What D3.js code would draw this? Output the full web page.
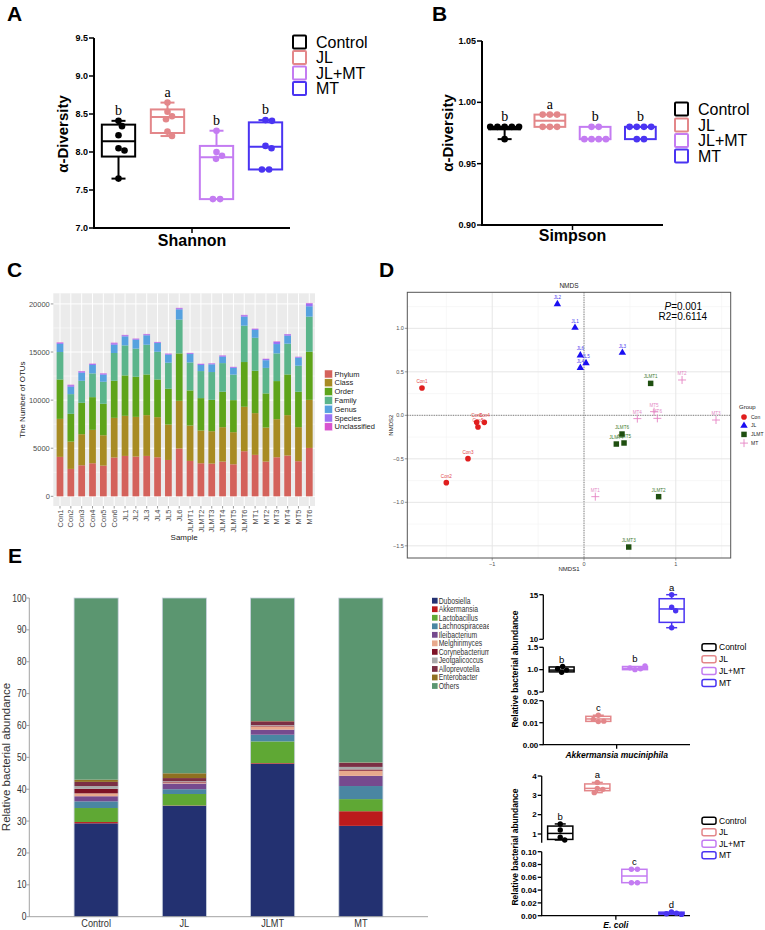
<!DOCTYPE html>
<html><head><meta charset="utf-8">
<script src="https://cdn.jsdelivr.net/npm/d3@7"></script>
<style>body{margin:0;background:#fff} svg{display:block}</style>
</head><body>
<svg id="chart" width="765" height="930"></svg>
<script>
// ================= DATA =================
const groups = ["Control","JL","JL+MT","MT"];
const groupColors = ["#000000","#e3878a","#c47cf2","#4a34f2"];

// Panel A – Shannon (points; box stats = [min,q1,median,q3,max])
const shannonTicks = [7.0,7.5,8.0,8.5,9.0,9.5];
const shannonPoints = [[8.41,8.34,8.22,8.05,8.02,7.65],[8.65,8.53,8.47,8.43,8.27,8.21],[8.28,8.00,7.95,7.91,7.38,7.38],[8.42,8.41,8.08,8.05,7.77,7.77]];
const shannonBox = [[7.65,7.94,8.14,8.36,8.41],[8.21,8.25,8.46,8.56,8.65],[7.38,7.38,7.93,8.08,8.28],[7.77,7.77,8.07,8.39,8.42]];
const shannonLetters = ["b","a","b","b"];

// Panel B – Simpson
const simpsonTicks = [0.90,0.95,1.00,1.05];
const simpsonPoints = [[0.980,0.980,0.980,0.980,0.980,0.970],[0.990,0.990,0.990,0.980,0.980,0.980],[0.980,0.980,0.970,0.970,0.970,0.970],[0.980,0.980,0.980,0.980,0.970,0.970]];
const simpsonBox = [[0.970,0.978,0.979,0.980,0.980],[0.980,0.980,0.985,0.990,0.990],[0.970,0.970,0.970,0.980,0.980],[0.970,0.970,0.980,0.980,0.980]];
const simpsonLetters = ["b","a","b","b"];

// Panel C – OTU numbers
const samples = ["Con1","Con2","Con3","Con4","Con5","Con6","JL1","JL2","JL3","JL4","JL5","JL6","JLMT1","JLMT2","JLMT3","JLMT4","JLMT5","JLMT6","MT1","MT2","MT3","MT4","MT5","MT6"];
const otuLevels = ["Phylum","Class","Order","Family","Genus","Species","Unclassified"];
const otuColors = ["#d4625b","#a88b23","#5ea41a","#5bb58b","#56a2df","#9b72f5","#d853cf"];
const otuPhylum  = [4100,2850,3230,3440,3190,4030,4200,4130,4200,4060,3780,4970,3680,3440,3400,3610,3330,4690,4310,3610,4060,4240,3650,5030];
const otuClass   = [3950,2840,3230,3470,3160,4130,4170,4130,4240,4170,3680,4960,3680,3400,3370,3580,3340,4620,4340,3540,3960,4200,3540,5000];
const otuOrder   = [4100,2885,3260,3400,3270,3850,4200,4170,4230,3920,3720,4930,3650,3370,3260,3680,3330,4650,4400,3550,3960,4230,3680,5000];
const otuFamily  = [2850,2050,2290,2470,2290,2890,3120,2920,3090,2880,2710,3510,2910,2810,2890,2980,2650,3780,3430,2650,2880,3200,2710,3650];
const otuGenus   = [850,765,840,870,730,860,940,930,980,910,830,1070,870,630,800,660,700,940,820,800,970,830,830,1080];
const otuSpecies = [100,160,130,100,110,150,110,90,100,80,90,110,90,100,80,110,80,140,100,120,220,140,70,290];
const otuUnclassified = [50,50,40,40,40,60,40,30,40,30,30,40,30,30,30,30,30,40,30,30,50,30,30,50];
const otuTicks = [0,5000,10000,15000,20000];

// Panel D – NMDS
const nmdsNames = ["Con1","Con2","Con3","Con4","Con5","Con6","JL1","JL2","JL3","JL4","JL5","JL6","JLMT1","JLMT2","JLMT3","JLMT4","JLMT5","JLMT6","MT1","MT2","MT3","MT4","MT5","MT6"];
const nmdsX = [-1.765,-1.50,-1.264,-1.086,-1.155,-1.169,-0.098,-0.29,0.418,-0.04,0.022,-0.04,0.726,0.813,0.487,0.352,0.436,0.414,0.123,1.068,1.438,0.581,0.763,0.799];
const nmdsY = [0.314,-0.774,-0.498,-0.081,-0.134,-0.081,1.007,1.279,0.72,0.547,0.601,0.69,0.367,-0.935,-1.514,-0.33,-0.318,-0.215,-0.935,0.406,-0.054,-0.038,0.042,-0.035];
const nmdsGroup = ["Con","Con","Con","Con","Con","Con","JL","JL","JL","JL","JL","JL","JLMT","JLMT","JLMT","JLMT","JLMT","JLMT","MT","MT","MT","MT","MT","MT"];
const nmdsGroups = ["Con","JL","JLMT","MT"];
const nmdsColors = ["#e01e1e","#1a0ff2","#1f4f10","#e585c4"];
const nmdsLabelColors = ["#e2474a","#4a3cf0","#3f7d33","#e38ac6"];
const nmdsXTicks = [-1,0,1];
const nmdsYTicks = [-1.5,-1.0,-0.5,0.0,0.5,1.0];

// Panel E – relative abundance of genera
const barGroups = ["Control","JL","JLMT","MT"];
const genera = ["Dubosiella","Akkermansia","Lactobacillus","Lachnospiraceae","Ileibacterium","Melghirimyces","Corynebacterium","Jeotgalicoccus","Alloprevotella","Enterobacter","Others"];
const generaColors = ["#233171","#bb1a1c","#5fa834","#4a86a2","#764a8e","#e8a98c","#7e1226","#a9a9a9","#7b2f44","#8f7021","#5b9670"];
const dubosiella = [29.3,34.8,48.0,28.5];
const akkermansia = [0.4,0.1,0.2,4.6];
const lactobacillus = [4.4,3.6,6.8,3.8];
const lachnospiraceae = [2.1,1.5,2.1,4.1];
const ileibacterium = [1.6,1.8,1.6,3.2];
const melghirimyces = [0.9,0.3,1.0,1.6];
const corynebacterium = [1.4,0.2,0.2,0.4];
const jeotgalicoccus = [0.9,0.2,0.2,0.8];
const alloprevotella = [1.3,1.0,1.2,1.3];
const enterobacter = [0.7,1.5,0.1,0.1];
const others = [57.0,55.0,38.6,51.6];
const abundTicks = [0,10,20,30,40,50,60,70,80,90,100];

// Panel E right – qPCR
const akkPoints = [[0.94,0.99,1.02,1.07],[0.0105,0.0107,0.0115,0.0134],[1.00,1.02,1.04,1.08],[15.0,13.6,13.2,11.3]];
const akkBox = [[0.94,0.95,0.99,1.06,1.07],[0.0105,0.0106,0.0117,0.0129,0.0134],[1.00,1.00,1.03,1.07,1.08],[11.3,11.9,13.4,14.55,15.0]];
const akkLetters = ["b","c","b","a"];
const akkSegTicks = [[0,0.01,0.02],[0.5,1.0,1.5],[10,15]];
const ecoliPoints = [[1.52,1.21,0.83,0.69],[3.67,3.36,3.31,3.14],[0.0725,0.0725,0.0516,0.0516],[0.006,0.004,0.003,0.002]];
const ecoliBox = [[0.69,0.72,1.03,1.41,1.52],[3.14,3.24,3.36,3.59,3.67],[0.0516,0.0516,0.062,0.0725,0.0725],[0.002,0.0025,0.0035,0.0055,0.006]];
const ecoliLetters = ["b","a","c","d"];
const ecoliSegTicks = [[0,0.02,0.04,0.06,0.08,0.10],[1,2,3,4]];

// ================= DRAW =================
const svg = d3.select("#chart");
const AR = "Arial, 'Liberation Sans', Helvetica, sans-serif";
const SER = "'Times New Roman','Liberation Serif', serif";

function txt(g, s, x, y, size, opts = {}) {
  const t = g.append("text").text(s)
    .attr("font-family", opts.family || AR).attr("font-size", size)
    .attr("fill", opts.fill || "#000");
  if (opts.narrow) {
    t.attr("x", 0).attr("y", 0).attr("transform", `translate(${x},${y}) scale(${opts.narrow},1)`);
  } else {
    t.attr("x", x).attr("y", y);
    if (opts.rotate) t.attr("transform", `rotate(${opts.rotate},${x},${y})`);
  }
  if (opts.weight) t.attr("font-weight", opts.weight);
  if (opts.anchor) t.attr("text-anchor", opts.anchor);
  if (opts.style) t.attr("font-style", opts.style);
  if (opts.dy) t.attr("dy", opts.dy);
  return t;
}

// panel letters
[["A",7,21],["B",432,21],["C",7,277],["D",379,277],["E",8,563]].forEach(d =>
  txt(svg, d[0], d[1], d[2], 21, {weight: "bold"}));

function placeDots(vals, y, r) {
  const placed = [], out = [];
  const idx = vals.map((v, i) => i);
  const rows = d3.groups(idx, i => Math.round(y(vals[i]) * 2) / 2);
  rows.forEach(([py, ids]) => {
    const n = ids.length;
    if (n > 1) {
      ids.forEach((i, k) => { const dx = (k - (n - 1) / 2) * (2 * r + 0.6); out[i] = dx; placed.push([dx, y(vals[i])]); });
    } else {
      const i = ids[0], yy = y(vals[i]);
      const hit = d => placed.find(p => Math.hypot(p[0] - d, p[1] - yy) < 2 * r - 0.3);
      let dx = 0; const h = hit(0);
      if (h) {
        const sg = h[0] > 0 ? -1 : 1;
        for (let s = 0.5; s < 40; s += 0.5) {
          if (!hit(sg * s)) { dx = sg * s; break; }
          if (!hit(-sg * s)) { dx = -sg * s; break; }
        }
      }
      out[i] = dx; placed.push([dx, yy]);
    }
  });
  return out;
}

function drawBox(g, cx, w, y, st, color, sw, capW, pts, r) {
  const line = (x1, y1, x2, y2) => g.append("line").attr("x1", x1).attr("y1", y1).attr("x2", x2).attr("y2", y2)
    .attr("stroke", color).attr("stroke-width", sw);
  if (Math.abs(y(st[0]) - y(st[1])) > 0.5) {
    line(cx, y(st[1]), cx, y(st[0])); line(cx - capW / 2, y(st[0]), cx + capW / 2, y(st[0]));
  }
  if (Math.abs(y(st[4]) - y(st[3])) > 0.5) {
    line(cx, y(st[3]), cx, y(st[4])); line(cx - capW / 2, y(st[4]), cx + capW / 2, y(st[4]));
  }
  g.append("rect").attr("x", cx - w / 2).attr("y", y(st[3])).attr("width", w)
    .attr("height", Math.max(0.5, y(st[1]) - y(st[3]))).attr("fill", "none")
    .attr("stroke", color).attr("stroke-width", sw);
  line(cx - w / 2, y(st[2]), cx + w / 2, y(st[2]));
  const offs = placeDots(pts, y, r);
  pts.forEach((v, i) => g.append("circle").attr("cx", cx + offs[i]).attr("cy", y(v)).attr("r", r).attr("fill", color));
}

// ---------- Panel A & B ----------
function diversityPanel(cfg) {
  const g = svg.append("g");
  const y = d3.scaleLinear().domain(cfg.domain).range(cfg.yr);
  const x = d3.scaleBand().domain(groups).range(cfg.xr);
  g.append("line").attr("x1", cfg.xr[0]).attr("x2", cfg.xr[0]).attr("y1", cfg.yr[0]).attr("y2", cfg.yr[1]).attr("stroke", "#000").attr("stroke-width", 2);
  g.append("line").attr("x1", cfg.xr[0] - 1).attr("x2", cfg.xr[1]).attr("y1", cfg.yr[0]).attr("y2", cfg.yr[0]).attr("stroke", "#000").attr("stroke-width", 2);
  cfg.ticks.forEach(t => {
    g.append("line").attr("x1", cfg.xr[0] - 5).attr("x2", cfg.xr[0]).attr("y1", y(t)).attr("y2", y(t)).attr("stroke", "#000").attr("stroke-width", 1.5);
    txt(g, d3.format(cfg.fmt)(t), cfg.xr[0] - 6, y(t), 9, {weight: "bold", anchor: "end", dy: "0.35em"});
  });
  const xm = (cfg.xr[0] + cfg.xr[1]) / 2;
  g.append("line").attr("x1", xm).attr("x2", xm).attr("y1", cfg.yr[0]).attr("y2", cfg.yr[0] + 5).attr("stroke", "#000").attr("stroke-width", 1.5);
  txt(g, cfg.xlabel, xm, cfg.xlabY, 16, {weight: "bold", anchor: "middle"});
  txt(g, "α-Diversity", cfg.ytX, cfg.ytY, 15, {weight: "bold", anchor: "middle", rotate: -90});
  groups.forEach((gr, i) => {
    const cx = x(gr) + x.bandwidth() / 2;
    drawBox(g, cx, x.bandwidth() * 0.68, y, cfg.box[i], groupColors[i], 2, 14, cfg.points[i], 3.3);
    txt(g, cfg.letters[i], cx, y(cfg.box[i][4]) - 6, 14, {family: SER, anchor: "middle"});
  });
  groups.forEach((gr, i) => {
    const yy = cfg.legY[i];
    g.append("rect").attr("x", cfg.legX).attr("y", yy - 6.5).attr("width", 13).attr("height", 13)
      .attr("fill", "none").attr("stroke", groupColors[i]).attr("stroke-width", 2).attr("rx", 1);
    txt(g, gr, cfg.legX + 23, yy, 16, {dy: "0.36em"});
  });
}
diversityPanel({domain: [7, 9.5], yr: [228, 38], xr: [94, 290], ticks: shannonTicks, fmt: ".1f",
  points: shannonPoints, box: shannonBox, letters: shannonLetters, xlabel: "Shannon", xlabY: 246,
  ytX: 68, ytY: 134, legX: 293, legY: [42, 57.5, 73, 88.5]});
diversityPanel({domain: [0.9, 1.05], yr: [225, 41], xr: [482, 663], ticks: simpsonTicks, fmt: ".2f",
  points: simpsonPoints, box: simpsonBox, letters: simpsonLetters, xlabel: "Simpson", xlabY: 241,
  ytX: 453, ytY: 133, legX: 675, legY: [109, 125, 140.5, 156]});

// ---------- Panel C ----------
(function () {
  const g = svg.append("g");
  const L = 53.3, R = 315, T = 293.3, B = 506;
  const y = d3.scaleLinear().domain([-1005, 21105]).range([B, T]);
  const x = d3.scalePoint().domain(samples).range([60, 309.3]);
  const bw = x.step() * 0.62;
  g.append("rect").attr("x", L).attr("y", T).attr("width", R - L).attr("height", B - T).attr("fill", "#ebebeb");
  [2500, 7500, 12500, 17500].forEach(v => g.append("line").attr("x1", L).attr("x2", R).attr("y1", y(v)).attr("y2", y(v)).attr("stroke", "#fff").attr("stroke-width", 0.5));
  otuTicks.forEach(v => g.append("line").attr("x1", L).attr("x2", R).attr("y1", y(v)).attr("y2", y(v)).attr("stroke", "#fff").attr("stroke-width", 1));
  samples.forEach(s => g.append("line").attr("x1", x(s)).attr("x2", x(s)).attr("y1", T).attr("y2", B).attr("stroke", "#fff").attr("stroke-width", 1));
  const arrs = [otuPhylum, otuClass, otuOrder, otuFamily, otuGenus, otuSpecies, otuUnclassified];
  const table = samples.map((s, i) => { const o = {sample: s}; otuLevels.forEach((l, k) => o[l] = arrs[k][i]); return o; });
  const series = d3.stack().keys(otuLevels)(table);
  series.forEach((ser, k) => {
    g.selectAll(null).data(ser).join("rect")
      .attr("x", d => x(d.data.sample) - bw / 2).attr("width", bw)
      .attr("y", d => y(d[1])).attr("height", d => y(d[0]) - y(d[1]))
      .attr("fill", otuColors[k]);
  });
  otuTicks.forEach(v => {
    g.append("line").attr("x1", L - 2.5).attr("x2", L).attr("y1", y(v)).attr("y2", y(v)).attr("stroke", "#555").attr("stroke-width", 0.6);
    txt(g, String(v), L - 3.5, y(v), 7.5, {anchor: "end", dy: "0.35em", fill: "#4d4d4d"});
  });
  samples.forEach(s => {
    g.append("line").attr("x1", x(s)).attr("x2", x(s)).attr("y1", B).attr("y2", B + 2.5).attr("stroke", "#555").attr("stroke-width", 0.6);
    txt(g, s, x(s), B + 3.5, 7.5, {anchor: "end", dy: "0.35em", fill: "#4d4d4d", rotate: -90});
  });
  txt(g, "Sample", (L + R) / 2, 540, 8, {anchor: "middle", fill: "#222"});
  txt(g, "The Number of OTUs", 25, (T + B) / 2, 8, {anchor: "middle", fill: "#222", rotate: -90});
  otuLevels.forEach((l, k) => {
    const yy = 374 + k * 8.8;
    g.append("rect").attr("x", 324.5).attr("y", yy - 4).attr("width", 8).attr("height", 8).attr("fill", otuColors[k]).attr("stroke", "#fff").attr("stroke-width", 0.5);
    txt(g, l, 334.5, yy, 7.5, {dy: "0.35em", fill: "#222"});
  });
})();

// ---------- Panel D ----------
(function () {
  const g = svg.append("g");
  const L = 407.3, R = 730.7, T = 292.3, B = 558;
  const x = d3.scaleLinear().domain([-1.925, 1.598]).range([L, R]);
  const y = d3.scaleLinear().domain([-1.64, 1.414]).range([B, T]);
  g.append("rect").attr("x", L).attr("y", T).attr("width", R - L).attr("height", B - T).attr("fill", "#fff");
  [-1.5, -0.5, 0.5, 1.5].forEach(v => g.append("line").attr("x1", x(v)).attr("x2", x(v)).attr("y1", T).attr("y2", B).attr("stroke", "#f3f3f3").attr("stroke-width", 0.6));
  [-1.25, -0.75, -0.25, 0.25, 0.75, 1.25].forEach(v => g.append("line").attr("x1", L).attr("x2", R).attr("y1", y(v)).attr("y2", y(v)).attr("stroke", "#f3f3f3").attr("stroke-width", 0.6));
  nmdsXTicks.forEach(v => g.append("line").attr("x1", x(v)).attr("x2", x(v)).attr("y1", T).attr("y2", B).attr("stroke", "#e6e6e6").attr("stroke-width", 1));
  nmdsYTicks.forEach(v => g.append("line").attr("x1", L).attr("x2", R).attr("y1", y(v)).attr("y2", y(v)).attr("stroke", "#e6e6e6").attr("stroke-width", 1));
  g.append("line").attr("x1", x(0)).attr("x2", x(0)).attr("y1", T).attr("y2", B).attr("stroke", "#666").attr("stroke-width", 0.8).attr("stroke-dasharray", "1.2,1.2");
  g.append("line").attr("x1", L).attr("x2", R).attr("y1", y(0)).attr("y2", y(0)).attr("stroke", "#666").attr("stroke-width", 0.8).attr("stroke-dasharray", "1.2,1.2");
  g.append("rect").attr("x", L).attr("y", T).attr("width", R - L).attr("height", B - T).attr("fill", "none").attr("stroke", "#555").attr("stroke-width", 1);
  nmdsXTicks.forEach(v => {
    g.append("line").attr("x1", x(v)).attr("x2", x(v)).attr("y1", B).attr("y2", B + 2.5).attr("stroke", "#555").attr("stroke-width", 0.6);
    txt(g, v === 0 ? "0" : d3.format("d")(v).replace("-", "−"), x(v), B + 7.5, 5.5, {anchor: "middle", fill: "#4d4d4d"});
  });
  nmdsYTicks.forEach(v => {
    g.append("line").attr("x1", L - 2.5).attr("x2", L).attr("y1", y(v)).attr("y2", y(v)).attr("stroke", "#555").attr("stroke-width", 0.6);
    txt(g, d3.format(".1f")(v).replace("-", "−"), L - 3.5, y(v), 5.5, {anchor: "end", dy: "0.35em", fill: "#4d4d4d"});
  });
  txt(g, "NMDS", (L + R) / 2, 288, 6.5, {anchor: "middle", fill: "#222"});
  txt(g, "NMDS1", (L + R) / 2, 571, 6, {anchor: "middle", fill: "#222"});
  txt(g, "NMDS2", 393, (T + B) / 2, 6, {anchor: "middle", fill: "#222", rotate: -90});
  const sym = (gi, px, py, sc) => {
    if (gi === 3) return g.append("path").attr("d", `M${px - 4 * sc},${py}H${px + 4 * sc}M${px},${py - 4 * sc}V${py + 4 * sc}`).attr("stroke", nmdsColors[3]).attr("stroke-width", 0.9).attr("fill", "none");
    const types = [d3.symbolCircle, d3.symbolTriangle, d3.symbolSquare];
    const sizes = [25, 24, 30];
    return g.append("path").attr("d", d3.symbol(types[gi], sizes[gi] * sc * sc)()).attr("transform", `translate(${px},${py})`).attr("fill", nmdsColors[gi]);
  };
  nmdsNames.forEach((n, i) => {
    const gi = nmdsGroups.indexOf(nmdsGroup[i]);
    sym(gi, x(nmdsX[i]), y(nmdsY[i]), 1);
    txt(g, n, x(nmdsX[i]), y(nmdsY[i]) - 5, 4.6, {anchor: "middle", fill: nmdsLabelColors[gi]});
  });
  const ptxt = g.append("text").attr("x", 702).attr("y", 310).attr("font-family", AR).attr("font-size", 10).attr("text-anchor", "end");
  ptxt.append("tspan").attr("font-style", "italic").text("P");
  ptxt.append("tspan").text("=0.001");
  txt(g, "R2=0.6114", 707, 320, 10, {anchor: "end"});
  txt(g, "Group", 739, 409, 6, {fill: "#222"});
  nmdsGroups.forEach((n, k) => {
    const yy = 417 + k * 8.7;
    sym(k, 744, yy, 1);
    txt(g, n, 751, yy, 5, {dy: "0.35em", fill: "#222"});
  });
})();

// ---------- Panel E (stacked bars) ----------
(function () {
  const g = svg.append("g");
  const y = d3.scaleLinear().domain([0, 100]).range([916.7, 598]);
  const x = d3.scaleBand().domain(barGroups).range([52, 405]).paddingInner(0.5).paddingOuter(0.25);
  const arrs = [dubosiella, akkermansia, lactobacillus, lachnospiraceae, ileibacterium, melghirimyces, corynebacterium, jeotgalicoccus, alloprevotella, enterobacter, others];
  const table = barGroups.map((b, i) => { const o = {grp: b}; genera.forEach((ge, k) => o[ge] = arrs[k][i]); return o; });
  const series = d3.stack().keys(genera)(table);
  series.forEach((ser, k) => {
    g.selectAll(null).data(ser).join("rect")
      .attr("x", d => x(d.data.grp)).attr("width", x.bandwidth())
      .attr("y", d => y(d[1])).attr("height", d => y(d[0]) - y(d[1]))
      .attr("fill", generaColors[k]);
  });
  barGroups.forEach(b => g.append("rect").attr("x", x(b)).attr("y", y(100)).attr("width", x.bandwidth()).attr("height", y(0) - y(100))
    .attr("fill", "none").attr("stroke", "#c9d1de").attr("stroke-width", 0.8));
  g.append("line").attr("x1", 29.3).attr("x2", 29.3).attr("y1", y(0)).attr("y2", y(100)).attr("stroke", "#8a8a8a").attr("stroke-width", 0.8);
  g.append("line").attr("x1", 29.3).attr("x2", 428).attr("y1", y(0)).attr("y2", y(0)).attr("stroke", "#8a8a8a").attr("stroke-width", 0.8);
  abundTicks.forEach(v => {
    g.append("line").attr("x1", 26.5).attr("x2", 29.3).attr("y1", y(v)).attr("y2", y(v)).attr("stroke", "#8a8a8a").attr("stroke-width", 0.8);
    txt(g, String(v), 26.5, y(v), 10, {narrow: 0.85, anchor: "end", dy: "0.35em", fill: "#333"});
  });
  barGroups.forEach(b => txt(g, b, x(b) + x.bandwidth() / 2, 927, 11.5, {narrow: 0.8, anchor: "middle", fill: "#333"}));
  txt(g, "Relative bacterial abundance", 10, 757, 11.5, {anchor: "middle", fill: "#333", rotate: -90});
  const clip = svg.append("clipPath").attr("id", "legclip");
  clip.append("rect").attr("x", 420).attr("y", 590).attr("width", 69).attr("height", 110);
  const lg = g.append("g").attr("clip-path", "url(#legclip)");
  genera.forEach((ge, k) => {
    const yy = 600.7 + k * 8.53;
    lg.append("rect").attr("x", 432).attr("y", yy - 2.9).attr("width", 5.6).attr("height", 5.8).attr("fill", generaColors[k]);
    txt(lg, ge, 438.7, yy, 8.5, {narrow: 0.8, dy: "0.35em", fill: "#333"});
  });
})();

// ---------- Panel E right (broken axes) ----------
function brokenPanel(cfg) {
  const g = svg.append("g");
  const segs = cfg.segs.map((s, k) => ({ticks: cfg.ticks[k], fmt: s.fmt,
    y: d3.scaleLinear().domain([cfg.ticks[k][0], cfg.ticks[k][cfg.ticks[k].length - 1]]).range(s.range)}));
  if (cfg.extendLow) segs[cfg.extendLow.seg].y.domain([cfg.extendLow.v, segs[cfg.extendLow.seg].y.domain()[1]])
    .range([cfg.extendLow.px, cfg.segs[cfg.extendLow.seg].range[1]]);
  const x = d3.scaleBand().domain(groups).range([cfg.ax, cfg.axR]);
  segs.forEach(s => {
    const r = s.y.range();
    g.append("line").attr("x1", cfg.ax).attr("x2", cfg.ax).attr("y1", r[0]).attr("y2", r[1]).attr("stroke", "#000").attr("stroke-width", 1.3);
    s.ticks.forEach(t => {
      g.append("line").attr("x1", cfg.ax - 4).attr("x2", cfg.ax).attr("y1", s.y(t)).attr("y2", s.y(t)).attr("stroke", "#000").attr("stroke-width", 1.3);
      txt(g, d3.format(s.fmt)(t), cfg.ax - 5, s.y(t), 8, {weight: "bold", anchor: "end", dy: "0.35em"});
    });
  });
  const y0 = segs[0].y.range()[0];
  g.append("line").attr("x1", cfg.ax - 0.6).attr("x2", cfg.axR).attr("y1", y0).attr("y2", y0).attr("stroke", "#000").attr("stroke-width", 1.3);
  const xm = (cfg.ax + cfg.axR) / 2;
  g.append("line").attr("x1", xm).attr("x2", xm).attr("y1", y0).attr("y2", y0 + 4).attr("stroke", "#000").attr("stroke-width", 1.3);
  txt(g, cfg.xlabel, xm, cfg.xlabY, 8.5, {weight: "bold", style: "italic", anchor: "middle"});
  txt(g, "Relative bacterial abundance", 518, cfg.ytY, 8.5, {weight: "bold", anchor: "middle", rotate: -90});
  groups.forEach((gr, i) => {
    const st = cfg.box[i];
    const seg = segs.find(s => st[2] >= s.y.domain()[0] && st[2] <= s.y.domain()[1]);
    const cx = x(gr) + x.bandwidth() / 2;
    drawBox(g, cx, x.bandwidth() * 0.68, seg.y, st, groupColors[i], 1.5, 11, cfg.points[i], 2.7);
    txt(g, cfg.letters[i], cx, seg.y(st[4]) - 4, 9.5, {anchor: "middle"});
  });
  groups.forEach((gr, i) => {
    const yy = cfg.legY + i * cfg.legStep;
    g.append("rect").attr("x", 702).attr("y", yy - 3.5).attr("width", 14).attr("height", 7).attr("rx", 2)
      .attr("fill", "none").attr("stroke", groupColors[i]).attr("stroke-width", 1.5);
    txt(g, gr, 719, yy, 8.5, {dy: "0.35em"});
  });
}
brokenPanel({ax: 543.3, axR: 690, ticks: akkSegTicks,
  segs: [{range: [744.7, 700.7], fmt: ".2f"}, {range: [692, 647.3], fmt: ".1f"}, {range: [639.3, 594.7], fmt: "d"}],
  points: akkPoints, box: akkBox, letters: akkLetters, xlabel: "Akkermansia muciniphila", xlabY: 758,
  ytY: 669, legY: 647.3, legStep: 11.9});
brokenPanel({ax: 541.7, axR: 690, ticks: ecoliSegTicks,
  segs: [{range: [915.7, 851.7], fmt: ".2f"}, {range: [834, 776], fmt: "d"}],
  extendLow: {seg: 1, v: 0.55, px: 842.7},
  points: ecoliPoints, box: ecoliBox, letters: ecoliLetters, xlabel: "E. coli", xlabY: 928,
  ytY: 847, legY: 820.7, legStep: 11.5});
</script>
</body></html>
